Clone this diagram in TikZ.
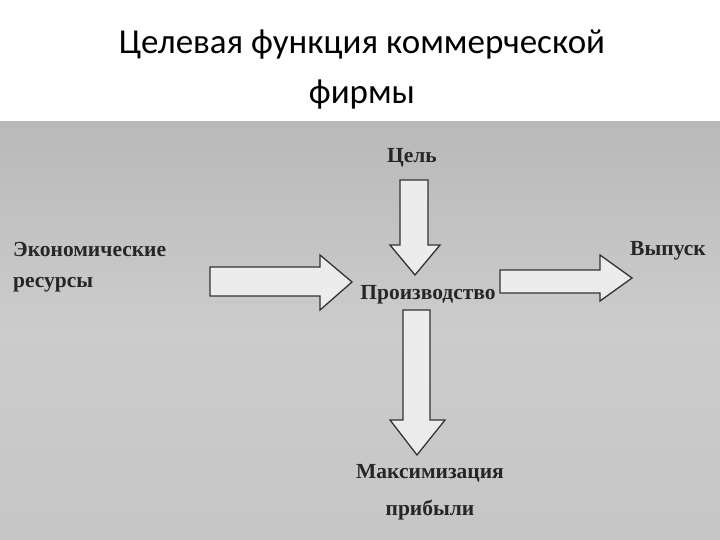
\documentclass[tikz,border=0pt]{standalone}
\usepackage{fontspec}
\setmainfont{Liberation Serif}
\newfontfamily\titlefont{Carlito}
\begin{document}
\begin{tikzpicture}[x=1pt,y=-1pt,
  lbl/.style={font=\fontsize{21.5}{24}\selectfont\bfseries, text=black!85, inner sep=0pt},
  barrow/.style={draw=black!80, line width=1.3pt, fill=white!85!gray, line join=miter}]
\useasboundingbox (0,0) rectangle (720,540);
\fill[white] (0,0) rectangle (720,540);
\shade[top color=gray!55, bottom color=gray!45, middle color=gray!40] (0,122) rectangle (720,540);
\node[font=\titlefont\fontsize{35}{50}\selectfont, align=center] (title) at (362,70) {Целевая функция коммерческой\\фирмы};
% arrows
\draw[barrow] (210,267) -- (320,267) -- (320,255) -- (352,282) -- (320,310) -- (320,296) -- (210,296) -- cycle;
\draw[barrow] (400,180) -- (428,180) -- (428,245) -- (440,245) -- (415,275) -- (390,245) -- (400,245) -- cycle;
\draw[barrow] (500,270) -- (600,270) -- (600,255) -- (632,278) -- (600,301) -- (600,293) -- (500,293) -- cycle;
\draw[barrow] (403,310) -- (430,310) -- (430,420) -- (445,420) -- (417,455) -- (390,420) -- (403,420) -- cycle;
% labels
\node[lbl, anchor=west] (res1) at (13,249) {Экономические};
\node[lbl, anchor=west] (res2) at (13,285) {ресурсы};
\node[lbl] (goal) at (412,158) {Цель};
\node[lbl] (prod) at (428,295) {Производство};
\node[lbl] (out) at (668,251) {Выпуск};
\node[lbl] (max1) at (430,473) {Максимизация};
\node[lbl] (max2) at (430,510) {прибыли};
\end{tikzpicture}
\end{document}
